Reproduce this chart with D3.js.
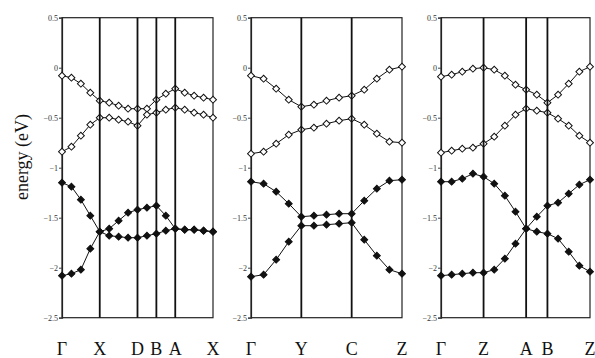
<!DOCTYPE html>
<html>
<head>
<meta charset="utf-8">
<script src="https://cdn.jsdelivr.net/npm/d3@7"></script>
<style>
  body { margin: 0; background: #fff; }
  svg { display: block; }
</style>
</head>
<body>
<div id="chart"></div>
<script>
// energy axis ticks
const yTicks = [0.5, 0, -0.5, -1, -1.5, -2, -2.5];

// panel 1: Γ X D B A X  (17 k-points)
const p1Labels = ["Γ", "X", "D", "B", "A", "X"];
const p1LabelIdx = [0, 4, 8, 10, 12, 16];
const p1Open1 = [-0.08, -0.10, -0.16, -0.25, -0.33, -0.35, -0.38, -0.41, -0.41, -0.41, -0.32, -0.26, -0.21, -0.25, -0.28, -0.30, -0.32];
const p1Open2 = [-0.84, -0.79, -0.68, -0.57, -0.50, -0.50, -0.52, -0.54, -0.58, -0.47, -0.45, -0.42, -0.40, -0.42, -0.45, -0.47, -0.50];
const p1Fill1 = [-1.15, -1.19, -1.32, -1.48, -1.64, -1.68, -1.69, -1.70, -1.70, -1.68, -1.66, -1.63, -1.61, -1.62, -1.62, -1.63, -1.64];
const p1Fill2 = [-2.08, -2.06, -2.02, -1.81, -1.64, -1.61, -1.53, -1.45, -1.42, -1.40, -1.38, -1.48, -1.61, -1.62, -1.62, -1.63, -1.64];

// panel 2: Γ Y C Z  (13 k-points)
const p2Labels = ["Γ", "Y", "C", "Z"];
const p2LabelIdx = [0, 4, 8, 12];
const p2Open1 = [-0.08, -0.11, -0.21, -0.32, -0.39, -0.37, -0.33, -0.30, -0.28, -0.22, -0.11, -0.02, 0.01];
const p2Open2 = [-0.86, -0.84, -0.76, -0.67, -0.62, -0.60, -0.56, -0.53, -0.51, -0.57, -0.66, -0.74, -0.75];
const p2Fill1 = [-1.14, -1.16, -1.24, -1.36, -1.49, -1.48, -1.47, -1.46, -1.46, -1.33, -1.21, -1.13, -1.12];
const p2Fill2 = [-2.09, -2.07, -1.92, -1.74, -1.58, -1.58, -1.57, -1.56, -1.55, -1.72, -1.88, -2.02, -2.06];

// panel 3: Γ Z A B Z  (15 k-points)
const p3Labels = ["Γ", "Z", "A", "B", "Z"];
const p3LabelIdx = [0, 4, 8, 10, 14];
const p3Open1 = [-0.09, -0.07, -0.04, -0.01, 0.00, -0.02, -0.08, -0.17, -0.22, -0.27, -0.35, -0.27, -0.16, -0.04, 0.01];
const p3Open2 = [-0.85, -0.83, -0.81, -0.80, -0.76, -0.69, -0.58, -0.47, -0.41, -0.43, -0.45, -0.51, -0.58, -0.68, -0.75];
const p3Fill1 = [-1.14, -1.14, -1.11, -1.06, -1.09, -1.16, -1.28, -1.44, -1.61, -1.64, -1.66, -1.71, -1.84, -1.98, -2.04];
const p3Fill2 = [-2.08, -2.07, -2.06, -2.05, -2.05, -2.02, -1.91, -1.76, -1.61, -1.49, -1.38, -1.35, -1.26, -1.17, -1.12];

const width = 595, height = 358;
const margin = {top: 17.7, bottom: 317.7};
const serif = "'Liberation Serif', 'DejaVu Serif', serif";

const panels = [
  {left: 62, right: 213, labels: p1Labels, idx: p1LabelIdx, open: [p1Open1, p1Open2], fill: [p1Fill1, p1Fill2]},
  {left: 251, right: 402, labels: p2Labels, idx: p2LabelIdx, open: [p2Open1, p2Open2], fill: [p2Fill1, p2Fill2]},
  {left: 441, right: 590, labels: p3Labels, idx: p3LabelIdx, open: [p3Open1, p3Open2], fill: [p3Fill1, p3Fill2]}
];

const svg = d3.select("#chart").append("svg")
  .attr("width", width)
  .attr("height", height);

const yScale = d3.scaleLinear()
  .domain([-2.5, 0.5])
  .range([margin.bottom, margin.top]);

// square turned 45 degrees -> diamond marker
const diamond = d3.symbol().type(d3.symbolSquare).size(24);

panels.forEach(function(p) {
  const n = p.open[0].length;
  const xScale = d3.scaleLinear().domain([0, n - 1]).range([p.left, p.right]);
  const g = svg.append("g");

  // frame
  g.append("rect")
    .attr("x", p.left).attr("y", margin.top)
    .attr("width", p.right - p.left).attr("height", margin.bottom - margin.top)
    .attr("fill", "none").attr("stroke", "#222").attr("stroke-width", 1.2);

  // y axis
  g.append("g")
    .attr("transform", `translate(${p.left},0)`)
    .call(d3.axisLeft(yScale).tickValues(yTicks).tickSize(3).tickPadding(1)
      .tickFormat(d => d === 0 ? "0" : d3.format("")(d)))
    .attr("font-family", serif)
    .attr("font-size", 8)
    .call(a => a.select(".domain").attr("stroke", "#222").attr("stroke-width", 1.2))
    .call(a => a.selectAll(".tick line").attr("stroke", "#444"))
    .call(a => a.selectAll(".tick text").attr("fill", "#333"));

  const line = d3.line().x((d, i) => xScale(i)).y(d => yScale(d));

  const bands = p.open.map(v => ({v: v, open: true})).concat(p.fill.map(v => ({v: v, open: false})));

  bands.forEach(function(b) {
    g.append("path")
      .attr("d", line(b.v))
      .attr("fill", "none").attr("stroke", "#111").attr("stroke-width", 1);
  });

  bands.forEach(function(b) {
    g.selectAll(null)
      .data(b.v)
      .enter()
      .append("path")
        .attr("d", diamond)
        .attr("transform", (d, i) => `translate(${xScale(i)},${yScale(d)}) rotate(45)`)
        .attr("fill", b.open ? "#fff" : "#111")
        .attr("stroke", "#111")
        .attr("stroke-width", 1);
  });

  // high-symmetry lines
  g.selectAll(null)
    .data(p.idx.slice(1, -1))
    .enter()
    .append("line")
      .attr("x1", d => xScale(d)).attr("x2", d => xScale(d))
      .attr("y1", margin.top).attr("y2", margin.bottom)
      .attr("stroke", "#111").attr("stroke-width", 1.8);

  // k-point labels
  g.selectAll(null)
    .data(p.labels)
    .enter()
    .append("text")
      .attr("font-family", serif)
      .attr("font-size", 18)
      .attr("fill", "#111")
      .attr("x", (d, i) => xScale(p.idx[i]))
      .attr("y", 355)
      .attr("text-anchor", "middle")
      .text(d => d);
});

svg.append("text")
  .attr("font-family", serif)
  .attr("font-size", 18)
  .attr("fill", "#111")
  .attr("transform", "rotate(-90)")
  .attr("x", -157)
  .attr("y", 28)
  .attr("text-anchor", "middle")
  .text("energy (eV)");
</script>
</body>
</html>
